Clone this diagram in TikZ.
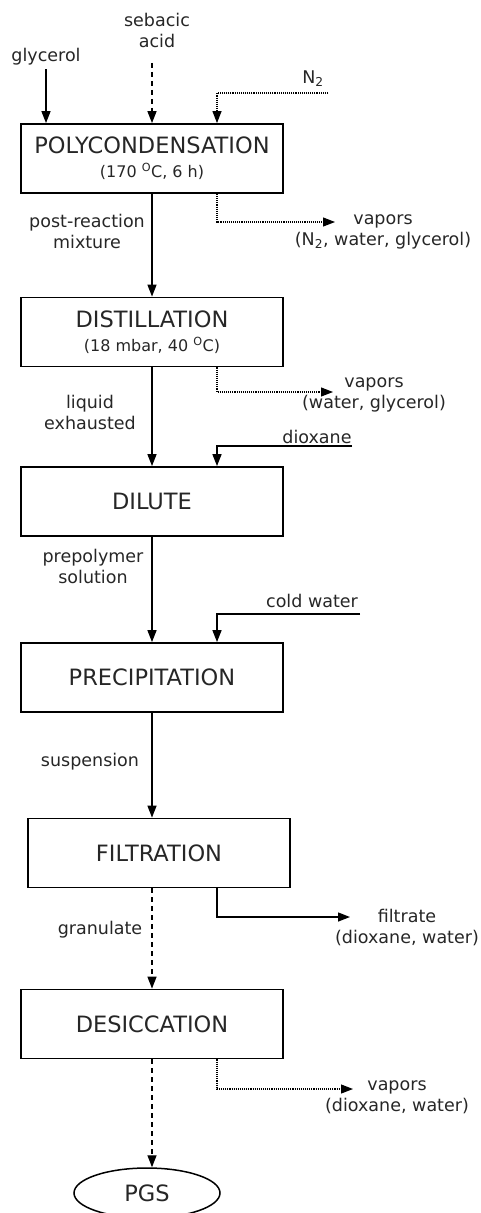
\documentclass[tikz,border=0pt]{standalone}
\usepackage{fontspec}
\setmainfont{DejaVu Sans}
\usepackage{tikz}
\usetikzlibrary{arrows.meta, positioning, shapes.geometric}

\begin{document}
\begin{tikzpicture}[
        x=1pt, y=-1pt, % pixel grid, y going down
        every node/.style={font=\fontsize{17.5}{21}\selectfont, align=center, text=black!85},
        stage/.style={draw=black, line width=1.8pt, minimum width=262pt, minimum height=69pt,
            inner sep=0pt, font=\fontsize{22.5}{24}\selectfont},
        flow/.style={-{Triangle[length=12pt,width=9pt]}, line width=1.4pt},
        feed/.style={flow, dash pattern=on 5pt off 4pt},
        vapor/.style={-{Triangle[length=12pt,width=9pt]}, line width=1.1pt, densely dotted}
    ]
        \useasboundingbox (0,0) rectangle (480,1213);

        % Process stages
        \node[stage] (polycond) at (152,158.5) {POLYCONDENSATION\\{\fontsize{16}{21}\selectfont (170 \textsuperscript{O}C, 6 h)}};
        \node[stage] (distill) at (152,332) {DISTILLATION\\{\fontsize{16}{21}\selectfont (18 mbar, 40 \textsuperscript{O}C)}};
        \node[stage] (dilute) at (152,501.5) {DILUTE};
        \node[stage] (precip) at (152,677.5) {PRECIPITATION};
        \node[stage] (filtr) at (159,853) {FILTRATION};
        \node[stage] (desicc) at (152,1024) {DESICCATION};
        \node[draw=black, ellipse, line width=1.5pt, minimum width=146pt, minimum height=50pt,
            font=\fontsize{22.5}{24}\selectfont] (pgs) at (147,1193) {PGS};

        % Feeds
        \node (glycerol) at (46,57) {glycerol};
        \node (sebacic) at (157,30) {sebacic\\acid};
        \node (n2) at (313,79) {N\textsubscript{2}};
        \coordinate (n2in) at (328,93);
        \node (dioxane) at (317,437) {dioxane};
        \coordinate (dioxin) at (352,446);
        \node (coldwater) at (312,601) {cold water};
        \coordinate (waterin) at (360,614);

        % Outlets
        \coordinate (vap1out) at (335,222);
        \node (vap1) at (383,232) {vapors\\(N\textsubscript{2}, water, glycerol)};
        \coordinate (vap2out) at (333,392);
        \node (vap2) at (374,395) {vapors\\(water, glycerol)};
        \coordinate (filtout) at (350,917);
        \node (filtrate) at (407,927) {filtrate\\(dioxane, water)};
        \coordinate (vap3out) at (353,1089);
        \node (vap3) at (397,1097.5) {vapors\\(dioxane, water)};

        % Stream labels
        \node at (87,231.5) {post-reaction\\mixture};
        \node at (90,412.5) {liquid\\exhausted};
        \node at (93,566.5) {prepolymer\\solution};
        \node at (90,762) {suspension};
        \node at (100,930) {granulate};

        % Feed lines
        \draw[flow] (glycerol.south) -- (glycerol.south |- polycond.north);
        \draw[feed, shorten <=12pt] (sebacic.south -| polycond.north) -- (polycond.north);
        \draw[vapor] (n2in) -| ([xshift=65pt]polycond.north);
        \draw[flow] (dioxin) -| ([xshift=65pt]dilute.north);
        \draw[flow] (waterin) -| ([xshift=65pt]precip.north);

        % Main line
        \draw[flow] (polycond) -- (distill);
        \draw[flow] (distill) -- (dilute);
        \draw[flow] (dilute) -- (precip);
        \draw[flow] (precip.south) -- (precip.south |- filtr.north);
        \draw[feed] (filtr.south -| desicc.north) -- (desicc.north);
        \draw[feed] (desicc.south) -- (desicc.south |- pgs.north);

        % Outlet lines
        \draw[vapor] ([xshift=65pt]polycond.south) |- (vap1out);
        \draw[vapor] ([xshift=65pt]distill.south) |- (vap2out);
        \draw[flow] ([xshift=58pt]filtr.south) |- (filtout);
        \draw[vapor] ([xshift=65pt]desicc.south) |- (vap3out);

    \end{tikzpicture}
\end{document}
